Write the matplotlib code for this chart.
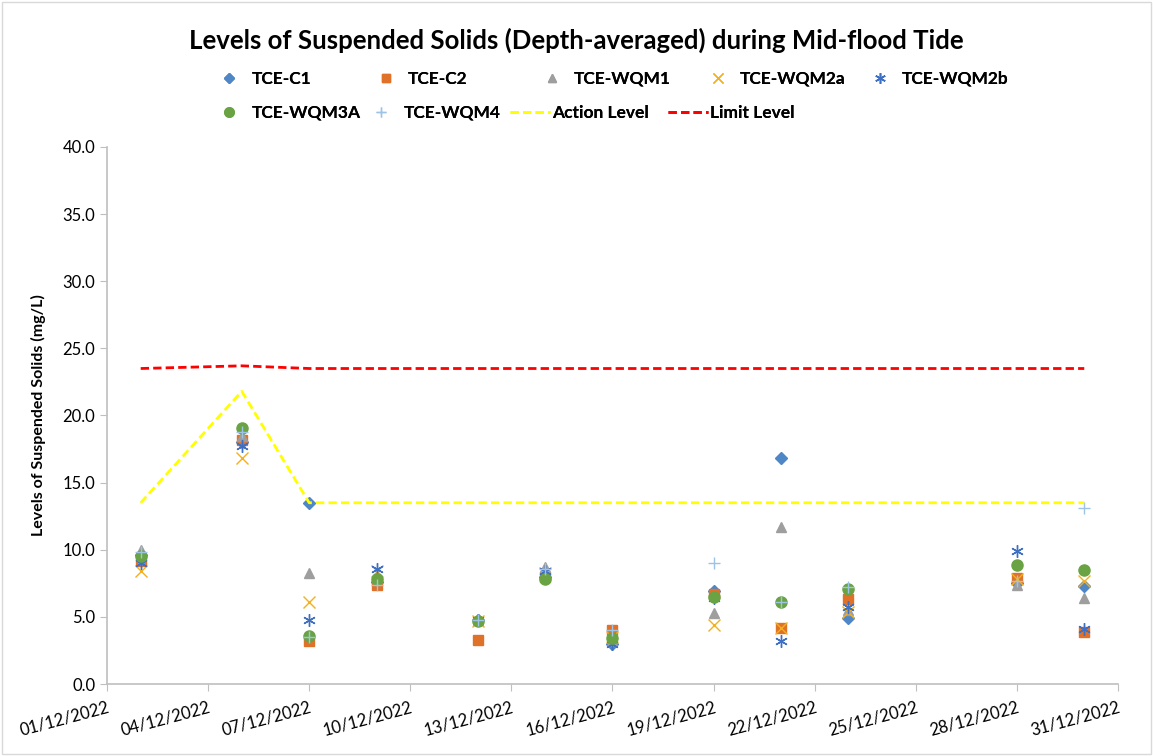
"""Suspended solids levels during mid-flood tide, December 2022."""
from datetime import datetime

import matplotlib

matplotlib.use("Agg")
import matplotlib.dates as mdates
import matplotlib.pyplot as plt
from matplotlib.patches import Rectangle

# Sampling dates
dates = [
    "2022-12-02", "2022-12-05", "2022-12-07", "2022-12-09",
    "2022-12-12", "2022-12-14", "2022-12-16", "2022-12-19",
    "2022-12-21", "2022-12-23", "2022-12-28", "2022-12-30",
]

# Depth-averaged SS (mg/L) per station
tce_c1 = [9.6, 18.0, 13.5, 7.6, 4.8, 8.0, 3.0, 6.9, 16.8, 4.9, 7.5, 7.3]
tce_c2 = [9.2, 18.2, 3.2, 7.4, 3.3, 8.0, 4.0, 6.7, 4.2, 6.3, 7.9, 3.9]
tce_wqm1 = [10.0, 18.5, 8.3, 8.0, 4.8, 8.7, 3.2, 5.3, 11.7, 5.5, 7.4, 6.4]
tce_wqm2a = [8.4, 16.8, 6.1, 8.4, 4.7, 8.3, 3.5, 4.4, 4.2, 5.4, 7.8, 7.7]
tce_wqm2b = [9.0, 17.7, 4.8, 8.6, 4.8, 8.4, 3.0, 6.4, 3.2, 5.7, 9.9, 4.1]
tce_wqm3a = [9.5, 19.1, 3.6, 7.8, 4.7, 7.8, 3.4, 6.5, 6.1, 7.1, 8.9, 8.5]
tce_wqm4 = [9.8, 18.8, 3.5, 7.4, 4.8, 8.6, 4.0, 9.0, 6.1, 7.2, 7.7, 13.1]

# Compliance levels
action_level = [13.5, 21.8, 13.5, 13.5, 13.5, 13.5, 13.5, 13.5, 13.5, 13.5, 13.5, 13.5]
limit_level = [23.5, 23.7, 23.5, 23.5, 23.5, 23.5, 23.5, 23.5, 23.5, 23.5, 23.5, 23.5]

x_start = "2022-12-01"
x_end = "2022-12-31"

W, H = 1153, 756
LEG_FS = 12.5


def main():
    plt.rcParams["font.family"] = ["Lato", "DejaVu Sans"]

    x = [datetime.strptime(d, "%Y-%m-%d") for d in dates]

    fig = plt.figure(figsize=(W / 100, H / 100), dpi=100)
    ax = fig.add_axes([0.0928, 0.0952, 0.8768, 0.7104])

    series = [
        ("TCE-C1", tce_c1, "D", "#4F86C6", 6.5),
        ("TCE-C2", tce_c2, "s", "#E07128", 7),
        ("TCE-WQM1", tce_wqm1, "^", "#9E9E9E", 7.5),
        ("TCE-WQM2a", tce_wqm2a, "x", "#F2B01E", 8),
        ("TCE-WQM2b", tce_wqm2b, (6, 2, 0), "#3F6FC0", 9),
        ("TCE-WQM3A", tce_wqm3a, "o", "#6AA343", 8),
        ("TCE-WQM4", tce_wqm4, "+", "#9DC3E6", 9),
    ]
    handles = []
    for label, vals, marker, color, ms in series:
        (h,) = ax.plot(
            x, vals, linestyle="none", marker=marker, color=color,
            markersize=ms, markeredgewidth=1.0, label=label,
        )
        handles.append(h)

    (h_act,) = ax.plot(x, action_level, "--", color="#FFFF00", lw=2, label="Action Level",
                       dashes=(3, 1.5))
    (h_lim,) = ax.plot(x, limit_level, "--", color="#FF0000", lw=2, label="Limit Level",
                       dashes=(3, 1.5))
    handles += [h_act, h_lim]

    ax.set_xlim(datetime.strptime(x_start, "%Y-%m-%d"), datetime.strptime(x_end, "%Y-%m-%d"))
    ax.set_ylim(0, 40)
    ax.set_yticks([0, 5, 10, 15, 20, 25, 30, 35, 40])
    ax.yaxis.set_major_formatter(plt.FormatStrFormatter("%.1f"))
    ax.xaxis.set_major_locator(mdates.DayLocator(interval=3))
    ax.xaxis.set_major_formatter(mdates.DateFormatter("%d/%m/%Y"))

    for lab in ax.get_xticklabels():
        lab.set_rotation(15)
        lab.set_ha("right")
        lab.set_rotation_mode("anchor")

    for side in ["top", "right"]:
        ax.spines[side].set_visible(False)
    for side in ["left", "bottom"]:
        ax.spines[side].set_color("#BFBFBF")
        ax.spines[side].set_linewidth(1.2)
    ax.tick_params(axis="both", colors="#BFBFBF", length=5, labelsize=12,
                   labelcolor="black")
    ax.tick_params(axis="x", pad=6)

    ax.set_ylabel("Levels of Suspended Solids (mg/L)", fontsize=11.5, fontweight="bold",
                  labelpad=12)
    fig.suptitle("Levels of Suspended Solids (Depth-averaged) during Mid-flood Tide",
                 fontsize=18.5, fontweight="bold", x=0.5, y=0.963)

    # Legend entries placed one by one, spreadsheet style (pixel x of handle start, row y)
    fs_px = LEG_FS * 100 / 72
    legend_slots = [
        (220, 79, 1.0, 0.8), (377, 79, 1.0, 0.8), (543, 79, 1.0, 0.8),
        (709, 79, 1.0, 0.8), (871, 79, 1.0, 0.8),
        (220, 113, 1.0, 0.8), (372, 113, 1.0, 0.8),
        (510, 113, 2.3, 0.1), (668, 113, 2.3, 0.1),
    ]
    for h, (px, py, hl, tp) in zip(handles, legend_slots):
        leg = fig.legend([h], [h.get_label()], loc="center left",
                         bbox_to_anchor=(px / W, 1 - py / H), frameon=False,
                         prop={"weight": "bold", "size": LEG_FS}, borderpad=0,
                         borderaxespad=0, handlelength=hl, handletextpad=tp,
                         numpoints=1, markerscale=0.85)
        fig.add_artist(leg)
    _ = fs_px

    fig.patches.append(Rectangle((0.002, 0.002), 0.996, 0.996, transform=fig.transFigure,
                                 fill=False, edgecolor="#D9D9D9", lw=1))

    fig.savefig("out.png", dpi=100)


if __name__ == "__main__":
    main()
